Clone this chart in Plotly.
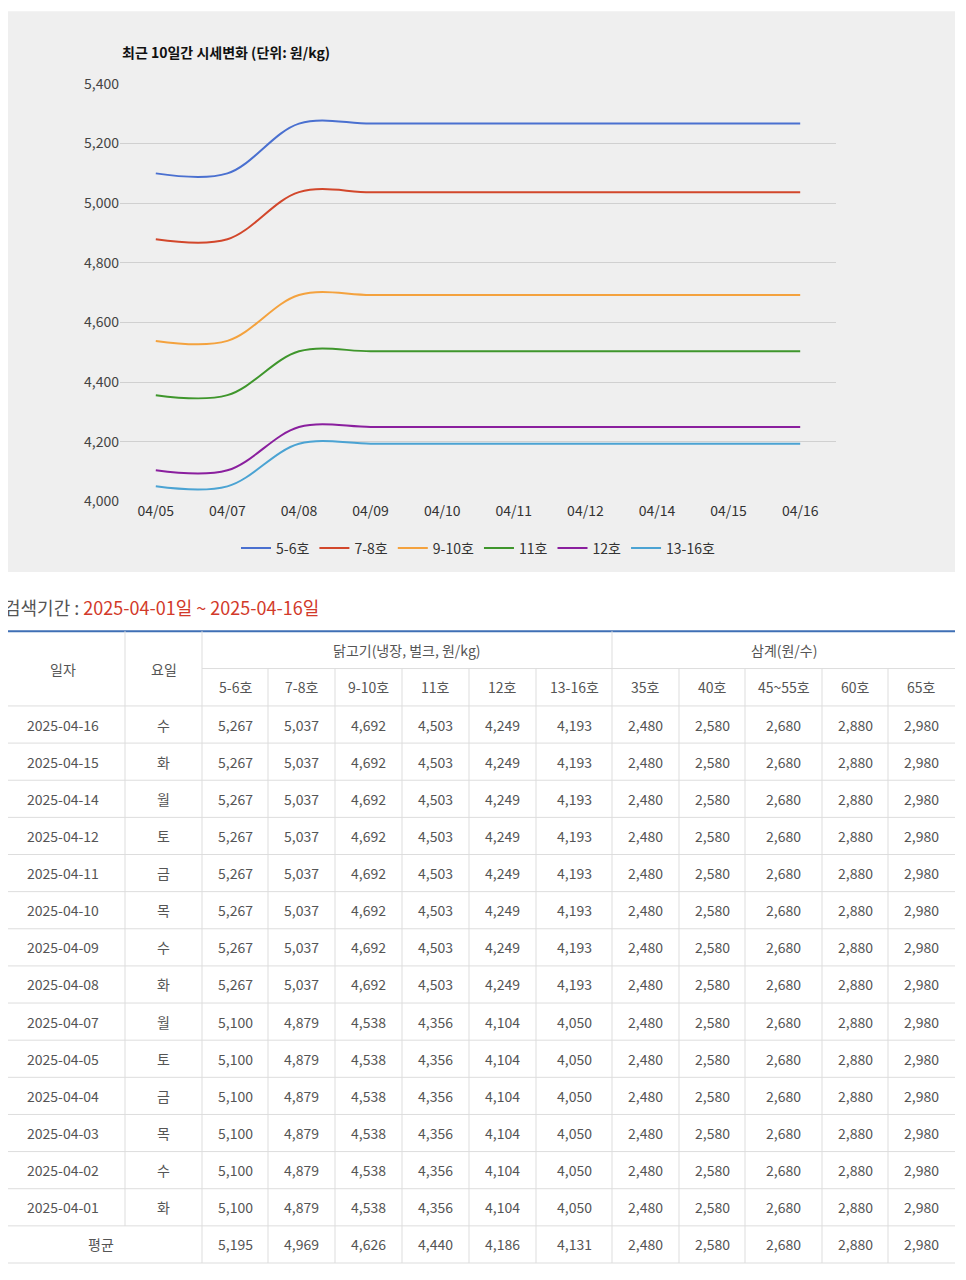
import plotly.graph_objects as go

W, H = 950, 1264
OFF = 8
FONT = "Noto Sans CJK KR"

chart_dates = ["04/05", "04/07", "04/08", "04/09", "04/10", "04/11", "04/12", "04/14", "04/15", "04/16"]
s56 = [5100, 5100, 5267, 5267, 5267, 5267, 5267, 5267, 5267, 5267]
s78 = [4879, 4879, 5037, 5037, 5037, 5037, 5037, 5037, 5037, 5037]
s910 = [4538, 4538, 4692, 4692, 4692, 4692, 4692, 4692, 4692, 4692]
s11 = [4356, 4356, 4503, 4503, 4503, 4503, 4503, 4503, 4503, 4503]
s12 = [4104, 4104, 4249, 4249, 4249, 4249, 4249, 4249, 4249, 4249]
s1316 = [4050, 4050, 4193, 4193, 4193, 4193, 4193, 4193, 4193, 4193]
series_names = ["5-6호", "7-8호", "9-10호", "11호", "12호", "13-16호"]
series_colors = ["#4a70d0", "#d2472b", "#f4a23e", "#3f962c", "#8a1f9e", "#4ba3d3"]

table_dates = ["2025-04-16", "2025-04-15", "2025-04-14", "2025-04-12", "2025-04-11", "2025-04-10",
               "2025-04-09", "2025-04-08", "2025-04-07", "2025-04-05", "2025-04-04", "2025-04-03",
               "2025-04-02", "2025-04-01"]
table_days = ["수", "화", "월", "토", "금", "목", "수", "화", "월", "토", "금", "목", "수", "화"]
new_vals = ["5,267", "5,037", "4,692", "4,503", "4,249", "4,193"]
old_vals = ["5,100", "4,879", "4,538", "4,356", "4,104", "4,050"]
avg_vals = ["5,195", "4,969", "4,626", "4,440", "4,186", "4,131"]
samgye_vals = ["2,480", "2,580", "2,680", "2,880", "2,980"]
sub_headers = ["5-6호", "7-8호", "9-10호", "11호", "12호", "13-16호", "35호", "40호", "45~55호", "60호", "65호"]

def px(x): return (x - OFF) / W
def py(y): return 1 - (y - OFF) / H

fig = go.Figure()
for name, vals, col in zip(series_names, [s56, s78, s910, s11, s12, s1316], series_colors):
    fig.add_trace(go.Scatter(x=chart_dates, y=vals, name=name, mode="lines",
                             line=dict(color=col, width=2, shape="spline", smoothing=1)))

shapes = [dict(type="rect", xref="paper", yref="paper", x0=px(0), x1=px(955), y0=py(570), y1=py(0),
               fillcolor="#efefef", line_width=0, layer="below")]
ann = [dict(text="<b>최근 10일간 시세변화 (단위: 원/kg)</b>", x=px(120), y=py(42), xref="paper", yref="paper",
            xanchor="left", yanchor="middle", showarrow=False, font=dict(size=14, color="#111", family=FONT)),
       dict(text="검색기간 : <span style='color:#d23a2a'>2025-04-01일 ~ 2025-04-16일</span>", x=px(2), y=py(605),
            xref="paper", yref="paper", xanchor="left", yanchor="middle", showarrow=False,
            font=dict(size=18, color="#555", family=FONT))]

cols = [0, 125, 202, 268, 335, 402, 469, 536, 612, 679, 745, 822, 888, 955]
top, h1, h2 = 630, 668, 706
nrows = len(table_dates) + 1
rh = (1272 - h2) / nrows
gray = "#dddddd"
txt = dict(size=14, color="#555", family=FONT)

def line(x0, y0, x1, y1, c=gray, w=1):
    shapes.append(dict(type="line", xref="paper", yref="paper", x0=px(x0), x1=px(x1), y0=py(y0), y1=py(y1),
                       line=dict(color=c, width=w)))

def cell(t, x0, x1, y0, y1):
    ann.append(dict(text=t, x=px((x0 + x1) / 2), y=py((y0 + y1) / 2), xref="paper", yref="paper",
                    showarrow=False, xanchor="center", yanchor="middle", font=txt))

line(0, top, 955, top, "#3f6fb5", 2)
line(202, h1, 955, h1)
line(0, h2, 955, h2)
for i in range(1, nrows + 1):
    line(0, h2 + i * rh, 955, h2 + i * rh)
for c in cols[1:-1]:
    ys = h1 if c not in (125, 202, 612) else top
    if c == 125:
        line(c, top, c, h2 + (nrows - 1) * rh)
    else:
        line(c, ys, c, 1272)
cell("일자", 0, 125, top, h2)
cell("요일", 125, 202, top, h2)
cell("닭고기(냉장, 벌크, 원/kg)", 202, 612, top, h1)
cell("삼계(원/수)", 612, 955, top, h1)
for j, sh in enumerate(sub_headers):
    cell(sh, cols[j + 2], cols[j + 3], h1, h2)
for i, (d, dy) in enumerate(zip(table_dates, table_days)):
    y0 = h2 + i * rh
    vals = (new_vals if d >= "2025-04-08" else old_vals) + samgye_vals
    cell(d, 0, 125, y0, y0 + rh)
    cell(dy, 125, 202, y0, y0 + rh)
    for j, v in enumerate(vals):
        cell(v, cols[j + 2], cols[j + 3], y0, y0 + rh)
y0 = h2 + (nrows - 1) * rh
cell("평균", 0, 202, y0, y0 + rh)
for j, v in enumerate(avg_vals + samgye_vals):
    cell(v, cols[j + 2], cols[j + 3], y0, y0 + rh)

fig.update_layout(
    width=W, height=H, autosize=False, margin=dict(l=0, r=0, t=0, b=0),
    paper_bgcolor="white", plot_bgcolor="rgba(0,0,0,0)",
    font=dict(family=FONT, color="#444", size=14),
    xaxis=dict(domain=[px(120), px(836)], type="category", range=[-0.5, 9.5], showgrid=False,
               showline=False, ticks="", tickfont=dict(size=14, color="#333")),
    yaxis=dict(domain=[py(498), py(74)], range=[4000, 5400], dtick=200, tickformat=",",
               gridcolor="#d0d0d0", zeroline=False, ticks="", tickfont=dict(size=14, color="#444")),
    legend=dict(orientation="h", x=px(478), xanchor="center", y=py(546), yanchor="middle",
                bgcolor="rgba(0,0,0,0)", font=dict(size=14, color="#333")),
    shapes=shapes, annotations=ann, showlegend=True,
)
fig.write_html("out.html")
